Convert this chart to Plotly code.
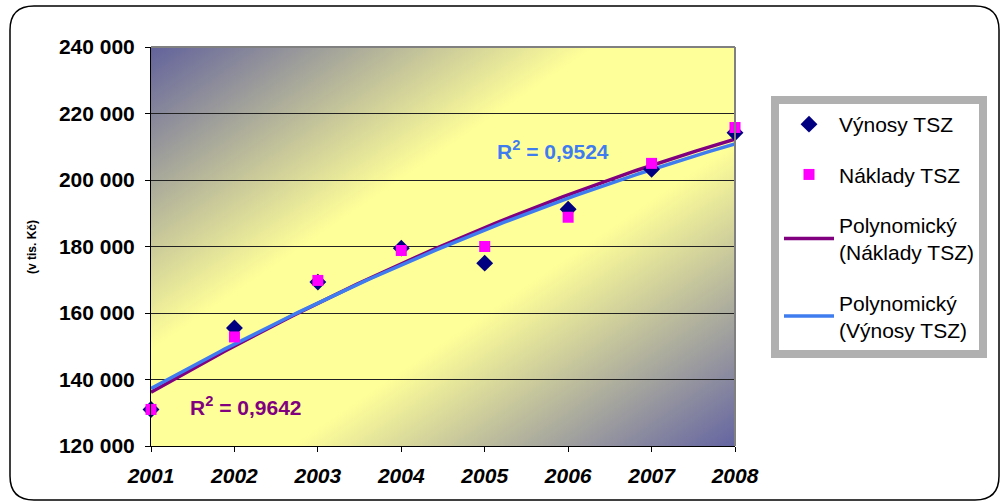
import base64
import numpy as np
import plotly.graph_objects as go

# Roky a hodnoty (v tis. Kč)
years = [2001, 2002, 2003, 2004, 2005, 2006, 2007, 2008]
vynosy = [131000, 155500, 169300, 179500, 175000, 191200, 203200, 214200]
naklady = [131000, 152800, 169800, 178800, 180000, 188800, 205000, 215800]
y_ticks = [120000, 140000, 160000, 180000, 200000, 220000, 240000]

r2_vynosy = "0,9524"
r2_naklady = "0,9642"

FONT = "Liberation Sans"
NAVY = "#000080"
MAGENTA = "#FF00FF"
PURPLE = "#800080"
BLUE = "#3F7CF0"

# Polynomial (2nd order) trend lines
xs = np.linspace(years[0], years[-1], 120)
t = np.array(years) - years[0]
p_nak = np.polyfit(t, naklady, 2)
p_vyn = np.polyfit(t, vynosy, 2)
trend_nak = np.polyval(p_nak, xs - years[0])
trend_vyn = np.polyval(p_vyn, xs - years[0])

fig = go.Figure()
# trend lines first so the markers sit on top
fig.add_trace(go.Scatter(x=xs, y=trend_nak, mode="lines",
                         name="Polynomický<br>(Náklady TSZ)",
                         line=dict(color=PURPLE, width=3.5),
                         legendgroup="c", legendrank=3))
fig.add_trace(go.Scatter(x=xs, y=trend_vyn, mode="lines",
                         name="Polynomický<br>(Výnosy TSZ)",
                         line=dict(color=BLUE, width=3.5),
                         legendgroup="d", legendrank=4))
fig.add_trace(go.Scatter(x=years, y=vynosy, mode="markers", name="Výnosy TSZ",
                         marker=dict(symbol="diamond", size=13, color=NAVY),
                         cliponaxis=False, legendgroup="a", legendrank=1))
fig.add_trace(go.Scatter(x=years, y=naklady, mode="markers", name="Náklady TSZ",
                         marker=dict(symbol="square", size=11, color=MAGENTA),
                         cliponaxis=False, legendgroup="b", legendrank=2))

# plot-area geometry in pixels (for decorative shapes)
L, R, T, B = 151, 735, 47, 446


def fx(px):
    return (px - L) / (R - L)


def fy(py):
    return (B - py) / (B - T)


# diagonal gradient background of the plot area
svg = (
    '<svg xmlns="http://www.w3.org/2000/svg" width="100" height="100" '
    'viewBox="0 0 100 100" preserveAspectRatio="none">'
    '<defs><linearGradient id="g" x1="0" y1="0" x2="1" y2="1">'
    '<stop offset="0" stop-color="#62629C"/>'
    '<stop offset="0.38" stop-color="#FFFF99"/>'
    '<stop offset="0.62" stop-color="#FFFF99"/>'
    '<stop offset="1" stop-color="#6464A2"/>'
    '</linearGradient></defs>'
    '<rect x="0" y="0" width="100" height="100" fill="url(#g)"/></svg>'
)
src = "data:image/svg+xml;base64," + base64.b64encode(svg.encode()).decode()

# rounded outer frame
x0, y0, x1, y1, r = 10, 6, 999, 500, 24
frame = (
    f"M{fx(x0 + r)},{fy(y0)} L{fx(x1 - r)},{fy(y0)} "
    f"Q{fx(x1)},{fy(y0)} {fx(x1)},{fy(y0 + r)} "
    f"L{fx(x1)},{fy(y1 - r)} Q{fx(x1)},{fy(y1)} {fx(x1 - r)},{fy(y1)} "
    f"L{fx(x0 + r)},{fy(y1)} Q{fx(x0)},{fy(y1)} {fx(x0)},{fy(y1 - r)} "
    f"L{fx(x0)},{fy(y0 + r)} Q{fx(x0)},{fy(y0)} {fx(x0 + r)},{fy(y0)} Z"
)

fig.update_layout(
    width=1000, height=502,
    margin=dict(l=L, r=1000 - R, t=T, b=502 - B, autoexpand=False),
    paper_bgcolor="white",
    plot_bgcolor="rgba(0,0,0,0)",
    separators=", ",
    font=dict(family=FONT, color="black"),
    images=[dict(source=src, xref="paper", yref="paper", x=0, y=1,
                 sizex=1, sizey=1, sizing="stretch", layer="below")],
    shapes=[
        dict(type="path", path=frame, xref="paper", yref="paper",
             line=dict(color="black", width=1.5), layer="below"),
        dict(type="line", xref="paper", yref="paper", x0=0, x1=1, y0=1, y1=1,
             line=dict(color="#808080", width=2)),
        dict(type="line", xref="paper", yref="paper", x0=1, x1=1, y0=0, y1=1,
             line=dict(color="#808080", width=2)),
    ],
    xaxis=dict(range=[years[0], years[-1]], tickvals=years,
               showgrid=False, zeroline=False,
               showline=True, linecolor="black", linewidth=1,
               ticks="outside", ticklen=5, tickcolor="black",
               ticklabelstandoff=6,
               tickfont=dict(family=FONT, size=21, weight="bold", style="italic")),
    yaxis=dict(range=[y_ticks[0], y_ticks[-1]], tickvals=y_ticks,
               tickformat=",d",
               showgrid=True, gridcolor="#222222", gridwidth=1,
               zeroline=False,
               showline=True, linecolor="black", linewidth=1,
               ticks="outside", ticklen=5, tickcolor="black",
               ticklabelstandoff=6,
               tickfont=dict(family=FONT, size=21, weight="bold")),
    legend=dict(x=fx(771), y=fy(96), xanchor="left", yanchor="top",
                bgcolor="white", bordercolor="#B0B0B0", borderwidth=8,
                font=dict(family=FONT, size=21, color="black"),
                tracegroupgap=20, traceorder="grouped",
                itemwidth=50),
    annotations=[
        dict(x=fx(23), y=fy(247), xref="paper", yref="paper",
             text="(v tis. Kč)", textangle=-90, showarrow=False,
             font=dict(family=FONT, size=12, weight="bold")),
        dict(x=2001 + (553 - L) / (R - L) * 7, y=209000,
             text=f"R<sup>2</sup> = {r2_vynosy}", showarrow=False,
             font=dict(family=FONT, size=21, weight="bold", color=BLUE)),
        dict(x=2001 + (246 - L) / (R - L) * 7, y=132000,
             text=f"R<sup>2</sup> = {r2_naklady}", showarrow=False,
             font=dict(family=FONT, size=21, weight="bold", color=PURPLE)),
    ],
)

fig.write_html("out.html")
